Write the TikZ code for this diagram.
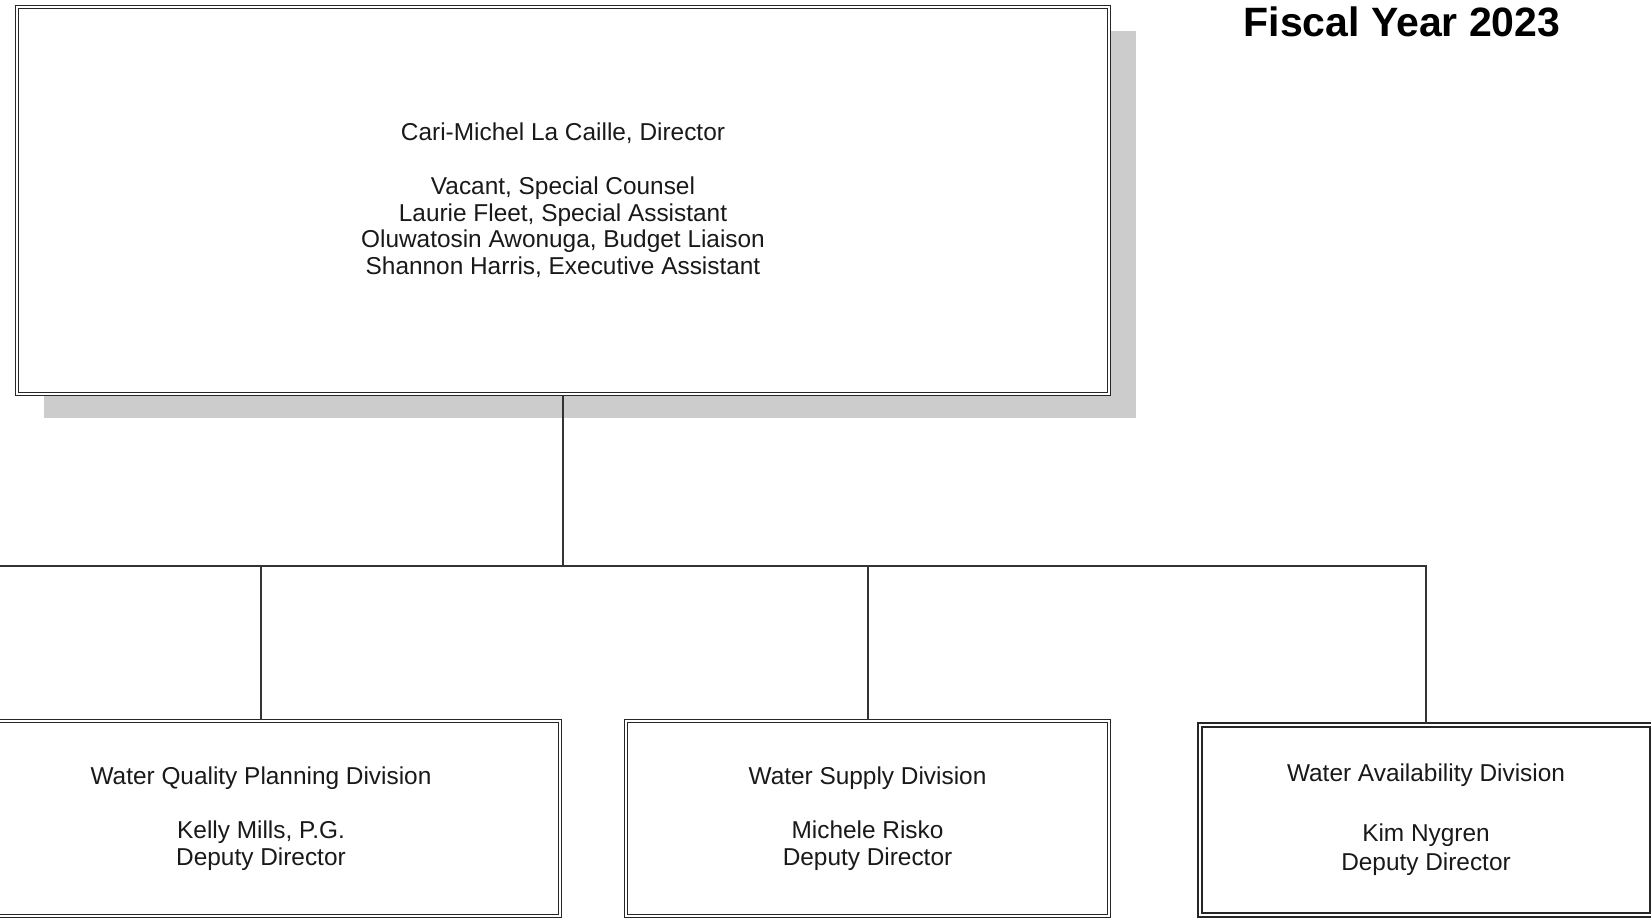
\documentclass[tikz,border=0pt]{standalone}
\usepackage{fontspec}
\setmainfont{Liberation Sans}
\usetikzlibrary{shadows}

\begin{document}
\begin{tikzpicture}[x=0.5pt, y=-0.5pt,
  unit/.style={draw=black!85, double=white, double distance=1pt, line width=0.7pt,
    fill=white, rectangle, align=center, inner sep=0pt, text=black!90,
    font=\fontsize{12.2}{13.4}\selectfont},
  link/.style={draw=black!80, line width=1pt}]
\useasboundingbox (0,0) rectangle (1651,919);
\node[anchor=base, text=black, font=\fontsize{20.5}{24}\selectfont\bfseries] (fy) at (1402,37) {Fiscal Year 2023};
\node[unit, minimum width=546pt, minimum height=193.5pt,
  drop shadow={shadow xshift=13.5pt, shadow yshift=-12pt, fill=gray!40, opacity=1}] (dir) at (563,200.5)
  {Cari-Michel La Caille, Director\\ \\ Vacant, Special Counsel\\ Laurie Fleet, Special Assistant\\
   Oluwatosin Awonuga, Budget Liaison\\ Shannon Harris, Executive Assistant};
\node[unit, minimum width=299pt, minimum height=97.5pt] (wqpd) at (261,818.5)
  {Water Quality Planning Division\\ \\ Kelly Mills, P.G.\\ Deputy Director};
\node[unit, minimum width=241.5pt, minimum height=97.5pt] (wsd) at (867.5,818.5)
  {Water Supply Division\\ \\ Michele Risko\\ Deputy Director};
\node[unit, line width=0.85pt, minimum width=226pt, minimum height=95pt,
  font=\fontsize{12.2}{14.8}\selectfont] (wad) at (1426,820)
  {Water Availability Division\\ \\ Kim Nygren\\ Deputy Director};
\coordinate (bus) at (0,566);
\path[link] (dir.south) -- (dir.south |- bus);
\path[link] (bus) -| (wad.north);
\path[link] (wqpd.north) -- (wqpd.north |- bus);
\path[link] (wsd.north) -- (wsd.north |- bus);
\end{tikzpicture}
\end{document}
